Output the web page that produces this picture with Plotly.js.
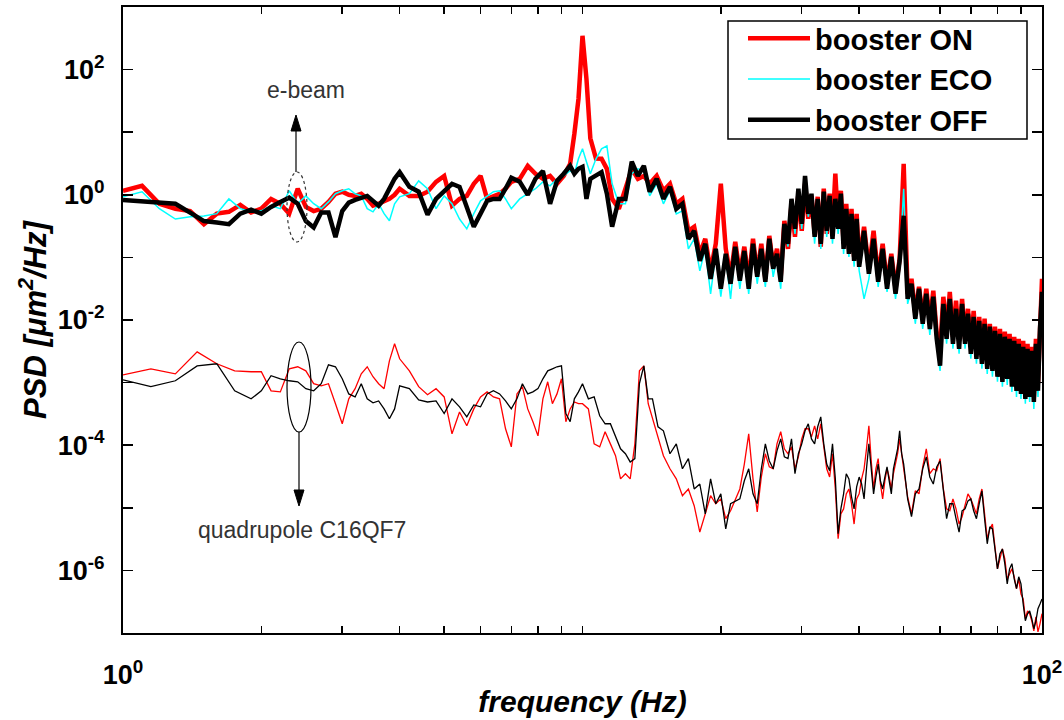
<!DOCTYPE html>
<html>
<head>
<meta charset="utf-8">
<script src="https://cdn.plot.ly/plotly-3.0.1.min.js"></script>
<style>html,body{margin:0;padding:0;background:#fff;}#chart{width:1064px;height:720px;}</style>
</head>
<body>
<div id="chart"></div>
<script>
// ---------- e-beam PSD (upper traces), frequency in Hz ----------
const freqBeam = [1.0,1.1,1.2,1.3,1.4,1.5,1.6,1.7,1.8,1.9,2.0,2.1,2.2,2.3,2.4,2.5,2.6,2.7,2.8,2.9,3.0,3.1,3.2,3.3,3.4,3.5,3.6,3.7,3.8,3.9,4.0,
  4.2,4.4,4.6,4.8,5.0,5.2,5.4,5.6,5.8,6.0,6.2,6.4,6.6,6.8,7.0,
  7.3,7.6,7.9,8.2,8.5,8.8,9.1,9.4,9.6,9.8,10.0,10.2,10.4,10.7,11.0,11.3,11.6,12.0,12.4,12.8,13.2,13.6,
  14.0,14.5,15.0,15.5,16.0,16.5,17.0,17.5,18.0,18.5,19.0,19.5,20.0,20.5,21.0,21.5,22.0,22.5,23.0,23.5,24.0,24.5,25.0,25.5,26.0,26.5,27.0,27.5,
  28.0,28.5,29.0,29.5,30.0,30.5,31.0,31.5,32.0,32.5,33.0,33.5,34.0,34.5,35.0,35.5,36.0,36.5,37.0,37.5,38.0,38.5,39.0,39.5,40.0,
  41,42,43,44,45,46,47,48,49,50,51,52,53,54,55,56,57,58,59,60,61,62,63,64,65,66,67,68,69,70,
  71,72,73,74,75,76,77,78,79,80,81,82,83,84,85,86,87,88,89,90,91,92,93,94,95,96,97,98,99,100];

const beamOn = [1.16,1.39,0.72,0.60,0.55,0.34,0.50,0.535,0.69,0.52,0.60,0.86,0.72,0.50,1.25,0.64,0.55,0.60,0.77,1.04,1.12,1.0,0.96,1.04,0.86,0.67,0.72,0.80,0.86,1.0,1.25,
  0.96,0.96,1.12,1.61,2.0,0.67,0.86,0.96,1.5,2.0,0.86,0.96,1.04,1.25,1.61,
  1.8,2.9,2.17,1.8,2.0,1.5,2.0,3.13,9.4,34,347,71,8.0,3.8,3.76,2.6,0.86,0.60,1.25,2.6,1.8,2.0,
  1.50,2.01,1.16,1.50,0.718,0.863,0.266,0.308,0.114,0.198,0.0611,0.165,1.50,0.137,0.049,0.177,0.0547,0.148,0.0423,0.198,0.0547,0.165,0.0455,0.221,0.0708,0.137,0.049,0.384,
  0.137,0.718,0.213,1.04,0.266,1.50,0.414,0.964,0.238,0.929,0.148,1.25,0.238,1.04,0.286,2.17,0.344,1.16,0.165,0.718,0.137,0.598,0.102,0.497,0.088,
  0.308,0.0657,0.266,0.049,0.165,0.0379,0.114,0.0315,0.095,3.13,0.0262,0.0455,0.0126,0.0339,0.0105,0.0315,0.0097,0.0293,0.006,0.00347,0.0235,0.0067,0.0282,0.0054,0.0203,0.00465,0.0218,0.005,0.0151,0.00373,
  0.014,0.00322,0.0112,0.00258,0.0105,0.00223,0.0087,0.002,0.0078,0.00154,0.0072,0.00138,0.0065,0.00138,0.006,0.00115,0.0054,0.00096,0.005,0.00086,0.00465,0.00066,0.00417,0.00074,0.00373,0.00059,0.005,0.00096,0.0105,0.0455];

const beamEco = [0.93,1.12,0.60,0.41,0.445,0.46,0.50,0.86,0.60,0.535,0.555,0.67,0.60,1.16,0.72,0.96,0.72,0.60,0.77,1.04,1.16,1.25,1.04,0.96,0.60,0.535,0.72,0.50,0.384,0.72,0.93,
  1.04,1.67,1.25,0.60,0.96,0.72,0.41,0.286,0.50,0.80,0.96,1.12,1.16,0.86,0.60,
  0.86,1.04,1.25,1.61,1.39,1.8,2.0,2.42,2.17,3.76,5.43,3.37,2.17,3.76,5.43,6.06,1.5,0.72,0.72,2.17,2.6,2.42,
  0.964,1.50,0.718,1.16,0.497,0.555,0.137,0.198,0.0611,0.137,0.0262,0.114,0.0235,0.102,0.0218,0.127,0.0315,0.114,0.0262,0.137,0.0379,0.114,0.0339,0.165,0.049,0.102,0.0315,0.308,
  0.148,0.773,0.238,1.12,0.286,1.80,0.445,0.929,0.165,0.802,0.137,0.964,0.213,0.863,0.165,0.773,0.238,0.929,0.114,0.535,0.102,0.445,0.0708,0.384,0.0611,
  0.0218,0.0455,0.177,0.0339,0.123,0.0282,0.088,0.0218,0.079,1.25,0.0181,0.0315,0.0087,0.0282,0.0072,0.0235,0.0058,0.0203,0.00417,0.00154,0.0163,0.00417,0.0195,0.00347,0.0135,0.00289,0.0163,0.00347,0.0112,0.0024,
  0.0097,0.002,0.0084,0.00166,0.0078,0.00138,0.0067,0.00124,0.006,0.00103,0.0054,0.00086,0.00465,0.00092,0.00432,0.00071,0.00402,0.00059,0.0036,0.00055,0.00322,0.00046,0.00299,0.00049,0.00278,0.00038,0.00347,0.00059,0.006,0.0218];

const beamOff = [0.83,0.80,0.77,0.72,0.52,0.38,0.36,0.34,0.50,0.58,0.50,0.64,0.77,0.90,0.72,0.38,0.30,0.52,0.52,0.21,0.55,0.75,0.83,0.90,0.96,0.80,0.67,0.86,1.3,1.8,2.3,
  1.34,1.12,0.48,0.86,1.16,1.5,1.34,0.60,0.31,0.50,0.80,0.86,0.86,1.25,1.87,
  1.61,1.0,1.8,2.4,0.72,1.67,2.17,2.9,2.17,2.6,2.8,0.86,1.8,2.0,2.3,1.04,0.31,0.86,0.86,3.4,2.0,2.9,
  1.12,1.80,0.863,1.34,0.598,0.718,0.198,0.266,0.088,0.165,0.0455,0.137,0.0315,0.114,0.0379,0.148,0.0423,0.127,0.0315,0.165,0.049,0.137,0.0408,0.198,0.0657,0.114,0.0408,0.344,
  0.165,0.863,0.286,1.25,0.344,2.01,0.497,1.04,0.213,0.863,0.165,1.12,0.266,0.964,0.198,0.863,0.286,1.04,0.137,0.598,0.114,0.497,0.088,0.414,0.0708,
  0.266,0.0547,0.198,0.0408,0.137,0.0315,0.102,0.0262,0.088,0.462,0.0218,0.0379,0.0105,0.0315,0.0087,0.0262,0.0072,0.0235,0.005,0.00186,0.0181,0.005,0.0218,0.00417,0.0151,0.00347,0.0181,0.00417,0.0126,0.00289,
  0.0112,0.0024,0.0097,0.002,0.0087,0.00166,0.0078,0.00154,0.0067,0.00124,0.006,0.00103,0.0054,0.00115,0.005,0.00086,0.00465,0.00074,0.00417,0.00066,0.00373,0.00055,0.00347,0.00059,0.00322,0.00049,0.00417,0.00074,0.0072,0.0282];

// ---------- quadrupole C16QF7 PSD (lower traces) ----------
const freqQuad = [1.0,1.15,1.3,1.45,1.6,1.75,1.9,
  2.0,2.1,2.2,2.3,2.4,2.5,2.6,2.7,2.8,2.9,3.0,3.1,3.2,3.3,3.4,3.5,3.6,3.7,3.8,3.9,4.0,
  4.2,4.4,4.6,4.8,5.0,5.2,5.4,5.6,5.8,6.0,6.2,6.4,6.6,6.8,7.0,
  7.2,7.4,7.6,7.8,8.0,8.2,8.4,8.6,8.8,9.0,9.2,9.4,9.6,9.8,10.0,
  10.3,10.6,10.9,11.2,11.5,11.8,12.1,12.4,12.7,13.0,13.3,13.6,13.9,14.2,
  14.6,15.0,
  15.5,16.0,16.5,17.0,17.5,18.0,18.5,19.0,19.5,20.0,20.5,
  21,
  22,22.5,23,23.5,24,24.5,25,25.5,26,26.5,27,27.5,28,28.5,29,29.5,30,30.5,31,31.5,32,32.5,33,33.5,34,34.5,35,35.5,
  36,36.5,37,37.5,38,38.5,39,39.5,40,40.5,41,41.5,42,42.5,43,43.5,44,44.5,45,45.5,46,46.5,47,47.5,48,48.5,49,49.5,50,
  51,52,53,54,55,56,57,58,59,60,61,62,63,64,65,66,67,68,69,70,71,72,73,74,75,
  76,77,78,79,80,81,82,83,84,85,86,87,88,89,90,91,92,93,94,95,96,97,98,99,100];

const quadOn = [1.33e-3,1.66e-3,1.38e-3,3.1e-3,2.0e-3,1.54e-3,1.49e-3,
  1.49e-3,7.4e-4,7.1e-4,1.66e-3,1.79e-3,1.54e-3,9.6e-4,8.9e-4,9.6e-4,4.6e-4,2.2e-4,5.5e-4,8.0e-4,1.38e-3,1.79e-3,1.24e-3,9.6e-4,8.0e-4,2.23e-3,4.17e-3,2.4e-3,
  1.54e-3,8.6e-4,6.4e-4,8.0e-4,5.9e-4,1.52e-4,3.4e-4,2.04e-4,3.8e-4,5.9e-4,7.1e-4,5.9e-4,5.5e-4,1.83e-4,9.4e-5,
  6.6e-4,8.6e-4,3.8e-4,2.37e-4,1.41e-4,5.5e-4,1.03e-3,4.6e-4,6.6e-4,1.15e-3,2.37e-4,3.8e-4,4.9e-4,4.6e-4,4.6e-4,
  3.8e-4,1.05e-4,9.4e-5,1.64e-4,1.05e-4,6.8e-5,2.9e-5,3.5e-5,2.9e-5,1.05e-4,1.54e-3,1.85e-3,4.6e-4,2.64e-4,
  1.26e-4,6.8e-5,
  4.2e-5,2.9e-5,1.56e-5,2.0e-5,1.08e-5,4.1e-6,8.0e-6,1.56e-5,1.16e-5,1.39e-5,6.7e-6,
  8.95e-6,
  2.0e-5,5.0e-5,1.52e-4,2.9e-5,8.6e-6,3.1e-5,7.3e-5,4.5e-5,4.2e-5,1.05e-4,1.64e-4,8.75e-5,7.3e-5,9.4e-5,4.2e-5,6.5e-5,1.26e-4,1.83e-4,1.83e-4,1.36e-4,2.04e-4,1.26e-4,2.2e-4,8.75e-5,4.2e-5,3.1e-5,7.3e-5,2.0e-5,
  3.2e-6,8.0e-6,9.6e-6,1.67e-5,2.0e-5,1.16e-5,5.5e-6,1.39e-5,1.67e-5,2.9e-5,4.2e-5,8.75e-5,2.04e-4,5.6e-5,2.0e-5,4.2e-5,6.1e-5,2.4e-5,1.39e-5,2.7e-5,4.2e-5,3.1e-5,2.0e-5,3.5e-5,5.0e-5,7.3e-5,1.26e-4,6.5e-5,4.2e-5,
  1.5e-5,8.0e-6,1.87e-5,1.67e-5,4.5e-5,8.75e-5,3.5e-5,4.2e-5,3.9e-5,6.1e-5,2.0e-5,9.6e-6,8.95e-6,1.39e-5,9.6e-6,5.5e-6,7.2e-6,1.16e-5,1.67e-5,1.39e-5,1.04e-5,8.0e-6,1.39e-5,2.0e-5,8.0e-6,
  3.2e-6,4.6e-6,5.5e-6,2.38e-6,1.06e-6,1.53e-6,2.2e-6,1.53e-6,7.3e-7,8.8e-7,1.06e-6,7.9e-7,5.1e-7,7.3e-7,4.2e-7,3.5e-7,1.69e-7,2.26e-7,2.03e-7,1.57e-7,1.08e-7,1.82e-7,1.04e-7,1.4e-7,2.03e-7];

const quadOff = [1.11e-3,8.6e-4,1.07e-3,1.85e-3,2.0e-3,7.4e-4,5.5e-4,
  7.4e-4,1.29e-3,1.15e-3,1.07e-3,1.03e-3,8.0e-4,7.4e-4,9.6e-4,1.92e-3,1.79e-3,1.15e-3,6.6e-4,5.9e-4,9.6e-4,5.5e-4,4.75e-4,5.1e-4,3.8e-4,2.64e-4,3.8e-4,8.9e-4,
  8.0e-4,5.3e-4,4.9e-4,5.1e-4,3.2e-4,5.5e-4,4.1e-4,2.84e-4,4.4e-4,4.1e-4,6.6e-4,7.4e-4,6.6e-4,5.1e-4,3.8e-4,
  5.5e-4,9.6e-4,6.6e-4,7.1e-4,8.0e-4,1.15e-3,1.54e-3,1.66e-3,1.79e-3,1.85e-3,3.2e-4,2.37e-4,5.5e-4,7.1e-4,9.6e-4,
  5.5e-4,5.9e-4,2.95e-4,2.2e-4,2.2e-4,1.36e-4,8.75e-5,7.3e-5,5.4e-5,6.1e-5,9.6e-4,1.85e-3,5.5e-4,5.5e-4,
  1.97e-4,1.7e-4,
  7.3e-5,1.05e-4,4.2e-5,6.1e-5,2.0e-5,2.4e-5,8.0e-6,2.9e-5,1.16e-5,1.67e-5,4.6e-6,
  1.16e-5,
  1.39e-5,2.7e-5,4.2e-5,1.67e-5,1.16e-5,4.2e-5,1.05e-4,5.6e-5,4.2e-5,8.1e-5,1.26e-4,6.5e-5,6.1e-5,1.26e-4,3.5e-5,7.3e-5,1.05e-4,1.7e-4,2.2e-4,1.26e-4,1.05e-4,1.97e-4,2.84e-4,1.05e-4,5.0e-5,3.9e-5,1.05e-4,2.9e-5,
  3.85e-6,9.6e-6,1.67e-5,3.5e-5,2.9e-5,1.5e-5,9.6e-6,2.16e-5,3.1e-5,2.4e-5,1.39e-5,4.2e-5,1.05e-4,4.2e-5,1.67e-5,3.1e-5,5.0e-5,2.7e-5,2.0e-5,3.1e-5,4.5e-5,2.7e-5,1.67e-5,4.2e-5,6.1e-5,8.75e-5,1.7e-4,7.3e-5,5.0e-5,
  1.39e-5,7.2e-6,1.67e-5,2.0e-5,4.2e-5,6.5e-5,3.1e-5,2.4e-5,4.5e-5,5.6e-5,1.67e-5,6.7e-6,1.16e-5,1.16e-5,6.7e-6,4.1e-6,8.95e-6,9.6e-6,1.29e-5,1.39e-5,8.95e-6,6.7e-6,1.16e-5,1.87e-5,6.7e-6,
  2.66e-6,4.97e-6,4.6e-6,2.2e-6,1.06e-6,1.84e-6,2.2e-6,1.28e-6,6.1e-7,1.06e-6,1.28e-6,7.3e-7,5.1e-7,7.9e-7,6.1e-7,2.9e-7,1.57e-7,2.03e-7,2.26e-7,1.69e-7,1.17e-7,1.57e-7,2.44e-7,2.9e-7,3.5e-7];

// ---------- labels and ticks ----------
const seriesNames = ['booster ON', 'booster ECO', 'booster OFF'];
const xTickVals = [1, 100];
const xTickText = ['10<sup>0</sup>', '10<sup>2</sup>'];
const xMinorVals = [2,3,4,5,6,7,8,9,10,20,30,40,50,60,70,80,90];
const yTickVals = [1e-6, 1e-4, 1e-2, 1, 100];
const yTickText = ['10<sup>-6</sup>', '10<sup>-4</sup>', '10<sup>-2</sup>', '10<sup>0</sup>', '10<sup>2</sup>'];
const yMinorVals = [1e-7, 1e-5, 1e-3, 1e-1, 10, 1000];
const annoBeam = 'e-beam';
const annoQuad = 'quadrupole C16QF7';

const FONT = 'Liberation Sans, Arial, Helvetica, sans-serif';

const traces = [
  {x: freqQuad, y: quadOn, type: 'scatter', mode: 'lines', line: {color: '#ff0000', width: 1.3}, showlegend: false, hoverinfo: 'skip'},
  {x: freqQuad, y: quadOff, type: 'scatter', mode: 'lines', line: {color: '#000000', width: 1.3}, showlegend: false, hoverinfo: 'skip'},
  {x: freqBeam, y: beamOn, type: 'scatter', mode: 'lines', name: seriesNames[0], line: {color: '#ff0000', width: 4.5}},
  {x: freqBeam, y: beamEco, type: 'scatter', mode: 'lines', name: seriesNames[1], line: {color: '#00ffff', width: 1.5}},
  {x: freqBeam, y: beamOff, type: 'scatter', mode: 'lines', name: seriesNames[2], line: {color: '#000000', width: 4.5}}
];

const px = v => (v - 123) / 919;
const py = v => (633 - v) / 626;
const tri = (x, yTip, yBase) => 'M ' + px(x) + ' ' + py(yTip) + ' L ' + px(x - 5) + ' ' + py(yBase) + ' L ' + px(x + 5) + ' ' + py(yBase) + ' Z';

const layout = {
  width: 1064, height: 720,
  margin: {l: 123, r: 22, t: 7, b: 87, pad: 0},
  paper_bgcolor: '#ffffff', plot_bgcolor: '#ffffff',
  font: {family: FONT, color: '#000'},
  showlegend: true,
  legend: {
    x: px(743), y: py(13), xanchor: 'left', yanchor: 'top',
    bgcolor: 'rgba(0,0,0,0)', borderwidth: 0,
    font: {family: FONT, size: 29, weight: 'bold', color: '#000'},
    itemwidth: 62, tracegroupgap: 0
  },
  xaxis: {
    type: 'log', range: [0, 2],
    tickmode: 'array', tickvals: xTickVals, ticktext: xTickText,
    ticks: 'inside', ticklen: 7, tickwidth: 1.5, tickcolor: '#000',
    minor: {tickmode: 'array', tickvals: xMinorVals, ticks: 'inside', ticklen: 7, tickwidth: 1.5, tickcolor: '#000', showgrid: false},
    showline: true, linewidth: 2, linecolor: '#000', mirror: 'ticks',
    showgrid: false, zeroline: false, automargin: false,
    ticklabelstandoff: 17,
    tickfont: {family: FONT, size: 27, weight: 'bold', color: '#000'},
    title: {text: 'frequency (Hz)', standoff: 2, font: {family: FONT, size: 30, weight: 'bold', style: 'italic', color: '#000'}}
  },
  yaxis: {
    type: 'log', range: [-7, 3],
    tickmode: 'array', tickvals: yTickVals, ticktext: yTickText,
    ticks: 'inside', ticklen: 10, tickwidth: 1.5, tickcolor: '#000',
    minor: {tickmode: 'array', tickvals: yMinorVals, ticks: 'inside', ticklen: 10, tickwidth: 1.5, tickcolor: '#000', showgrid: false},
    showline: true, linewidth: 2, linecolor: '#000', mirror: 'ticks',
    showgrid: false, zeroline: false, automargin: false,
    ticklabelstandoff: 11,
    tickfont: {family: FONT, size: 27, weight: 'bold', color: '#000'},
    title: {text: 'PSD [μm<sup>2</sup>/Hz]', standoff: 2, font: {family: FONT, size: 31, weight: 'bold', style: 'italic', color: '#000'}}
  },
  shapes: [
    {type: 'rect', xref: 'paper', yref: 'paper', x0: px(728), x1: px(1027), y0: py(139), y1: py(21),
     line: {color: '#000', width: 1.5}, fillcolor: '#ffffff', layer: 'below'},
    {type: 'circle', xref: 'paper', yref: 'paper', x0: px(287), x1: px(307), y0: py(242), y1: py(172),
     line: {color: '#333', width: 1.2, dash: 'dot'}},
    {type: 'circle', xref: 'paper', yref: 'paper', x0: px(287), x1: px(311), y0: py(432), y1: py(342),
     line: {color: '#000', width: 1.2}},
    {type: 'line', xref: 'paper', yref: 'paper', x0: px(296), x1: px(296), y0: py(172), y1: py(128),
     line: {color: '#000', width: 1.2}},
    {type: 'path', xref: 'paper', yref: 'paper', path: tri(296, 115, 131), fillcolor: '#000', line: {color: '#000', width: 1}},
    {type: 'line', xref: 'paper', yref: 'paper', x0: px(299), x1: px(299), y0: py(432), y1: py(493),
     line: {color: '#000', width: 1.2}},
    {type: 'path', xref: 'paper', yref: 'paper', path: tri(299, 506, 490), fillcolor: '#000', line: {color: '#000', width: 1}}
  ],
  annotations: [
    {xref: 'paper', yref: 'paper', x: px(306), y: py(90), xanchor: 'center', yanchor: 'middle', text: annoBeam, showarrow: false,
     font: {family: FONT, size: 23, color: '#333'}},
    {xref: 'paper', yref: 'paper', x: px(302), y: py(530), xanchor: 'center', yanchor: 'middle', text: annoQuad, showarrow: false,
     font: {family: FONT, size: 23, color: '#333'}}
  ]
};

Plotly.newPlot('chart', traces, layout, {displayModeBar: false, staticPlot: true});
</script>
</body>
</html>
